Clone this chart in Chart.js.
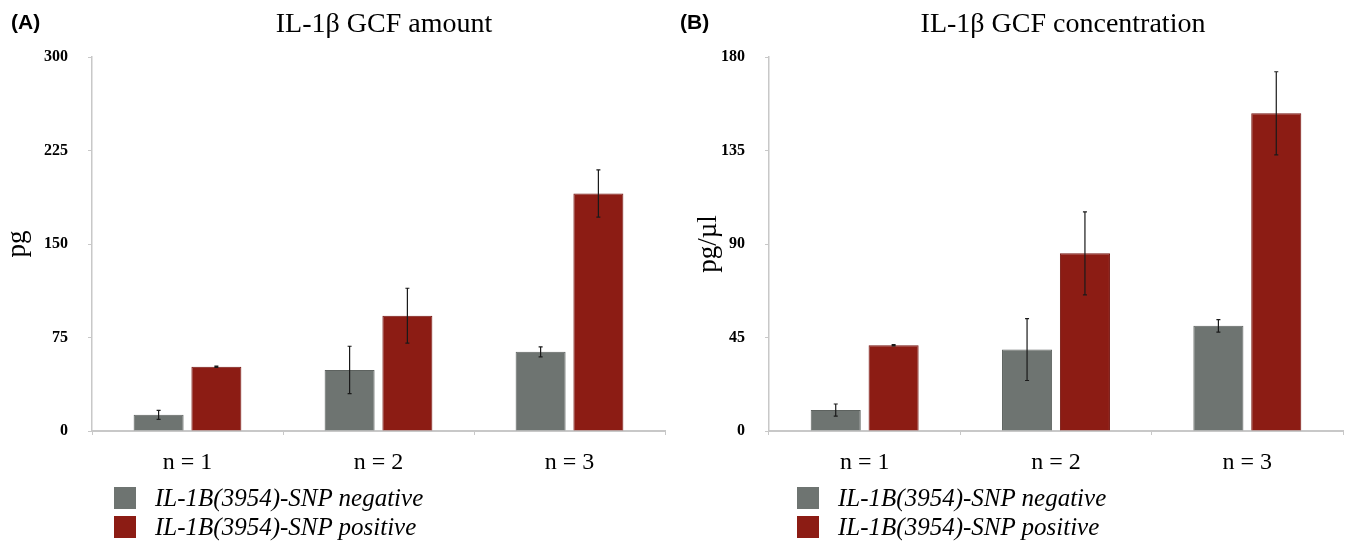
<!DOCTYPE html>
<html lang="en">
<head>
  <meta charset="UTF-8" />
  <title>IL-1β GCF</title>
  <script src="https://cdn.jsdelivr.net/npm/chart.js"></script>
  <style>
    * { margin: 0; padding: 0; box-sizing: border-box; }
    body { width: 1349px; height: 542px; background: #fff; position: relative; overflow: hidden;
           font-family: 'Liberation Serif', 'Times New Roman', serif; }
    .panel { position: absolute; top: 0; height: 542px; }
    .tag { position: absolute; top: 10px; font: bold 21px 'Liberation Sans', Arial, sans-serif; }
    .title { position: absolute; top: 9px; width: 500px; text-align: center; font-size: 28px; line-height: 1; }
    .legend { position: absolute; top: 487px; font-size: 25px; font-style: italic; }
    .legend div { height: 29px; line-height: 22px; white-space: nowrap; }
    .legend span { display: inline-block; width: 22px; height: 22px; vertical-align: top; margin-right: 19px; }
  </style>
</head>
<body>

  <div class="panel" style="left:0; width:680px;"><canvas id="chartA"></canvas></div>
  <div class="panel" style="left:680px; width:669px;"><canvas id="chartB"></canvas></div>

  <div class="tag" style="left:11px;">(A)</div>
  <div class="tag" style="left:680px;">(B)</div>
  <div class="title" style="left:134px;">IL-1β GCF amount</div>
  <div class="title" style="left:813px;">IL-1β GCF concentration</div>
  <div class="legend" id="legendA" style="left:114px;"></div>
  <div class="legend" id="legendB" style="left:797px;"></div>

  <script>
    // values
    const categories = ['n = 1', 'n = 2', 'n = 3'];
    const seriesNames = ['IL-1B(3954)-SNP negative', 'IL-1B(3954)-SNP positive'];

    const amountNeg = [13, 49, 63.5];
    const amountNegErr = [3.6, 19, 4];
    const amountPos = [51.5, 92.5, 190.5];
    const amountPosErr = [0.5, 22, 19];
    const amountTicks = [0, 75, 150, 225, 300];

    const concNeg = [10.1, 39.2, 50.6];
    const concNegErr = [2.9, 14.9, 3];
    const concPos = [41.3, 85.5, 152.9];
    const concPosErr = [0.3, 20, 20];
    const concTicks = [0, 45, 90, 135, 180];

    const GREY = '#6e7471';
    const RED = '#8c1c14';
    const SERIF = "'Liberation Serif', 'Times New Roman', serif";

    // error bars drawn from dataset.errors
    const errorBars = {
      id: 'errorBars',
      afterDatasetsDraw(chart) {
        const ctx = chart.ctx;
        const y = chart.scales.y;
        ctx.save();
        ctx.strokeStyle = '#1a1a1a';
        ctx.lineWidth = 1.2;
        chart.data.datasets.forEach((ds, i) => {
          chart.getDatasetMeta(i).data.forEach((bar, j) => {
            const v = ds.data[j], e = ds.errors[j];
            const top = y.getPixelForValue(v + e);
            const bot = y.getPixelForValue(v - e);
            ctx.beginPath();
            ctx.moveTo(bar.x, top); ctx.lineTo(bar.x, bot);
            ctx.moveTo(bar.x - 2, top); ctx.lineTo(bar.x + 2, top);
            ctx.moveTo(bar.x - 2, bot); ctx.lineTo(bar.x + 2, bot);
            ctx.stroke();
          });
        });
        ctx.restore();
      }
    };

    function makeChart(id, neg, negErr, pos, posErr, ticks, yTitle, dims) {
      const ctx = document.getElementById(id).getContext('2d');
      return new Chart(ctx, {
        type: 'bar',
        data: {
          labels: categories,
          datasets: [
            { label: seriesNames[0], data: neg, errors: negErr, backgroundColor: GREY,
              borderColor: '#5d625f', borderWidth: 1 },
            { label: seriesNames[1], data: pos, errors: posErr, backgroundColor: RED,
              borderColor: '#761510', borderWidth: 1 }
          ]
        },
        options: {
          responsive: true,
          maintainAspectRatio: false,
          animation: false,
          categoryPercentage: 0.605,
          barPercentage: 0.865,
          layout: { padding: { top: 57, right: dims.right, bottom: 0, left: 0 } },
          plugins: { legend: { display: false }, tooltip: { enabled: false } },
          scales: {
            x: {
              afterFit: s => { s.height = 111; },
              grid: { drawOnChartArea: false, tickLength: 4, color: '#c8c8c8' },
              border: { color: '#c8c8c8', width: 2 },
              ticks: { color: '#000', padding: 13, font: { family: SERIF, size: 24 } }
            },
            y: {
              min: ticks[0],
              max: ticks[ticks.length - 1],
              afterFit: s => { s.width = dims.left; },
              afterBuildTicks: s => { s.ticks = ticks.map(v => ({ value: v })); },
              grid: { drawOnChartArea: false, tickLength: 4, color: '#c8c8c8' },
              border: { color: '#c8c8c8', width: 1.5 },
              ticks: { color: '#000', padding: 20, font: { family: SERIF, size: 16, weight: 'bold' } },
              title: { display: true, text: yTitle, color: '#000', padding: { top: dims.titlePad, bottom: 0 },
                       font: { family: SERIF, size: 27 } }
            }
          }
        },
        plugins: [errorBars]
      });
    }

    function buildLegend(id) {
      const el = document.getElementById(id);
      [GREY, RED].forEach((c, i) => {
        const row = document.createElement('div');
        row.innerHTML = `<span style="background:${c}"></span>${seriesNames[i]}`;
        el.appendChild(row);
      });
    }

    makeChart('chartA', amountNeg, amountNegErr, amountPos, amountPosErr, amountTicks, 'pg',
      { left: 92, right: 15, titlePad: 2 });
    makeChart('chartB', concNeg, concNegErr, concPos, concPosErr, concTicks, 'pg/µl',
      { left: 89, right: 6, titlePad: 13 });
    buildLegend('legendA');
    buildLegend('legendB');
  </script>

</body>
</html>
